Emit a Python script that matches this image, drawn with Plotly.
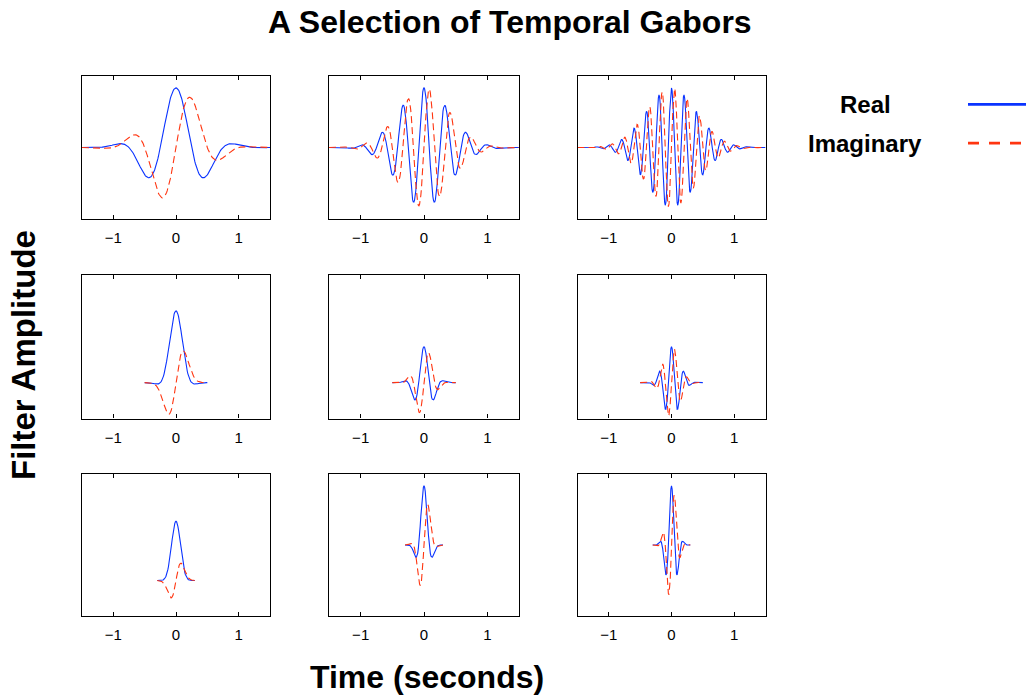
import numpy as np
import plotly.graph_objects as go

# ---- data ----
row_sigmas = [0.40, 0.128, 0.08]          # Gaussian envelope width per row (s)
row_spans = [1.5, 0.5, 0.3]               # filter support half-width per row (s)
col_freqs = [1.0, 3.0, 5.0]               # carrier frequency per column (Hz)
peak_amplitudes = [[1.0, 1.0, 1.0],
                   [1.2, 0.6, 0.6],
                   [1.0, 1.0, 1.0]]
y_limits = [[[-1.2, 1.2], [-1.2, 1.2], [-1.2, 1.2]],
            [[-0.6, 1.8], [-0.6, 1.8], [-0.6, 1.8]],
            [[-0.6, 1.8], [-1.2, 1.2], [-1.2, 1.2]]]
sample_step = 0.01
x_ticks = [-1, 0, 1]
x_range = [-1.5, 1.5]
legend_labels = ["Real", "Imaginary"]

W, H = 1026, 696
col_px = [(82, 270), (329, 519), (577.5, 765.5)]
row_px = [(76, 219), (275, 418.5), (474, 616)]

BLUE = "#0a33ff"
RED = "#ff3510"
FONT = "Liberation Sans, Arial, Helvetica"

fig = go.Figure()
k = 0
for r in range(3):
    for c in range(3):
        k += 1
        xa = "x" if k == 1 else f"x{k}"
        ya = "y" if k == 1 else f"y{k}"
        span = row_spans[r]
        n = int(round(2 * span / sample_step)) + 1
        t = np.linspace(-span, span, n)
        env = peak_amplitudes[r][c] * np.exp(-t**2 / (2 * row_sigmas[r] ** 2))
        re = env * np.cos(2 * np.pi * col_freqs[c] * t)
        im = env * np.sin(2 * np.pi * col_freqs[c] * t)
        fig.add_trace(go.Scatter(x=t, y=re, mode="lines", xaxis=xa, yaxis=ya,
                                 line=dict(color=BLUE, width=1.1), showlegend=False,
                                 hoverinfo="skip"))
        fig.add_trace(go.Scatter(x=t, y=im, mode="lines", xaxis=xa, yaxis=ya,
                                 line=dict(color=RED, width=1.1, dash="7px,4px"),
                                 showlegend=False, hoverinfo="skip"))
        x0, x1 = col_px[c]
        y0, y1 = row_px[r]
        xkey = "xaxis" if k == 1 else f"xaxis{k}"
        ykey = "yaxis" if k == 1 else f"yaxis{k}"
        fig.layout[xkey] = dict(
            domain=[x0 / W, x1 / W], range=x_range, anchor=ya,
            tickvals=x_ticks, ticks="inside", ticklen=4, tickcolor="black",
            showline=True, linecolor="black", linewidth=1.2, mirror="ticks",
            showgrid=False, zeroline=False, ticklabelstandoff=5,
            tickfont=dict(family=FONT, size=15, color="black"),
        )
        fig.layout[ykey] = dict(
            domain=[1 - y1 / H, 1 - y0 / H], range=y_limits[r][c], anchor=xa,
            showticklabels=False, ticks="", showline=True, linecolor="black",
            linewidth=1.2, mirror=True, showgrid=False, zeroline=False,
        )

# legend drawn on its own small axis
fig.add_trace(go.Scatter(x=[0, 1], y=[1, 1], mode="lines", xaxis="x10", yaxis="y10",
                         line=dict(color=BLUE, width=2.6), showlegend=False, hoverinfo="skip"))
fig.add_trace(go.Scatter(x=[0, 1], y=[0, 0], mode="lines", xaxis="x10", yaxis="y10",
                         line=dict(color=RED, width=2.6, dash="11px,10px"),
                         showlegend=False, hoverinfo="skip"))
fig.layout["xaxis10"] = dict(domain=[968 / W, 1.0], range=[0, 1], visible=False, anchor="y10")
fig.layout["yaxis10"] = dict(domain=[1 - 162.5 / H, 1 - 85 / H], range=[-0.5, 1.5],
                             visible=False, anchor="x10")

ann = []
for lbl, yy in zip(legend_labels, [104.5, 143]):
    ann.append(dict(text=f"<b>{lbl}</b>", x=865 / W, y=1 - yy / H, xref="paper", yref="paper",
                    showarrow=False, xanchor="center", yanchor="middle",
                    font=dict(family=FONT, size=24, color="black")))
ann.append(dict(text="<b>A Selection of Temporal Gabors</b>", x=509.5 / W, y=1 - 22 / H,
                xref="paper", yref="paper", showarrow=False, xanchor="center", yanchor="middle",
                font=dict(family=FONT, size=32, color="black")))
ann.append(dict(text="<b>Time (seconds)</b>", x=426.5 / W, y=1 - 677 / H,
                xref="paper", yref="paper", showarrow=False, xanchor="center", yanchor="middle",
                font=dict(family=FONT, size=32, color="black")))
ann.append(dict(text="<b>Filter Amplitude</b>", x=23 / W, y=1 - 355 / H, textangle=-90,
                xref="paper", yref="paper", showarrow=False, xanchor="center", yanchor="middle",
                font=dict(family=FONT, size=33, color="black")))

fig.update_layout(width=W, height=H, margin=dict(l=0, r=0, t=0, b=0),
                  paper_bgcolor="white", plot_bgcolor="white", annotations=ann,
                  showlegend=False)

fig.write_html("out.html", config={"displayModeBar": False},
               post_script="document.body.style.margin='0';document.body.style.overflow='hidden';")
